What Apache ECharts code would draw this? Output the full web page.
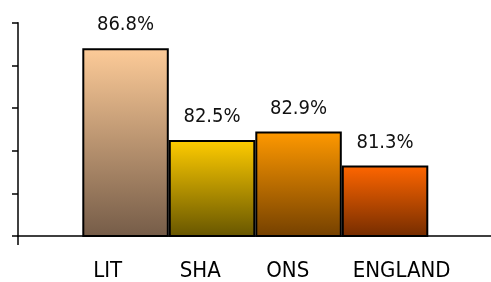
<!DOCTYPE html>
<html>
<head>
<meta charset="utf-8">
<script src="https://cdn.jsdelivr.net/npm/echarts@6/dist/echarts.min.js"></script>
<style>html,body{margin:0;padding:0;background:#fff;}#c{width:491px;height:282px;}</style>
</head>
<body>
<div id="c"></div>
<script>
const categories = ['LIT', 'SHA', 'ONS', 'ENGLAND'];
const values = [86.8, 82.5, 82.9, 81.3];
const topColors = ['#FDCB98', '#FFCC00', '#FF9900', '#FF6600'];
const bottomColors = ['#755C48', '#665500', '#744000', '#742C00'];
const yMin = 78, yMax = 88, yStep = 2;
const yTicks = [78, 80, 82, 84, 86, 88];

const FONT = '"DejaVu Sans Condensed", "Open Sans", sans-serif';
const chart = echarts.init(document.getElementById('c'), null, {renderer: 'canvas'});
const gTop = 22.7, gBottom = 46;
chart.setOption({
  animation: false,
  grid: [
    {left: 82.3, right: 62.7, top: gTop, bottom: gBottom},
    {left: 18, right: 0, top: gTop, bottom: gBottom},
    {left: 50, right: 95, top: gTop, bottom: gBottom}
  ],
  xAxis: [
    {gridIndex: 0, type: 'category', data: categories, axisLine: {show: false}, axisTick: {show: false}, axisLabel: {show: false}},
    {gridIndex: 1, type: 'value', min: 0, max: 1, splitLine: {show: false}, axisLabel: {show: false},
     axisLine: {show: true, lineStyle: {color: '#000', width: 1.5}},
     axisTick: {show: true, length: 9, customValues: [0], lineStyle: {color: '#000', width: 1.5}}},
    {gridIndex: 2, type: 'category', data: categories, axisLine: {show: false}, axisTick: {show: false},
     axisLabel: {show: true, interval: 0, hideOverlap: false, align: 'left', margin: 24, color: '#000', fontFamily: FONT, fontSize: 22}}
  ],
  yAxis: [
    {gridIndex: 0, type: 'value', min: yMin, max: yMax, interval: yStep, show: false},
    {gridIndex: 1, type: 'value', min: yMin, max: yMax, interval: yStep, splitLine: {show: false}, axisLabel: {show: false},
     axisLine: {show: true, lineStyle: {color: '#000', width: 1.5}},
     axisTick: {show: true, length: 6, customValues: yTicks, lineStyle: {color: '#000', width: 1.5}}},
    {gridIndex: 2, type: 'value', min: yMin, max: yMax, show: false}
  ],
  series: [{
    type: 'bar',
    xAxisIndex: 0, yAxisIndex: 0,
    barCategoryGap: 0,
    data: values.map((v, i) => ({
      value: v,
      itemStyle: {
        color: new echarts.graphic.LinearGradient(0, 0, 0, 1, [
          {offset: 0, color: topColors[i]}, {offset: 1, color: bottomColors[i]}
        ]),
        borderColor: '#000', borderWidth: 2
      }
    })),
    label: {show: true, position: 'top', distance: 13, formatter: p => p.value.toFixed(1) + '%',
      color: '#111', fontFamily: FONT, fontSize: 20}
  }]
});
</script>
</body>
</html>
